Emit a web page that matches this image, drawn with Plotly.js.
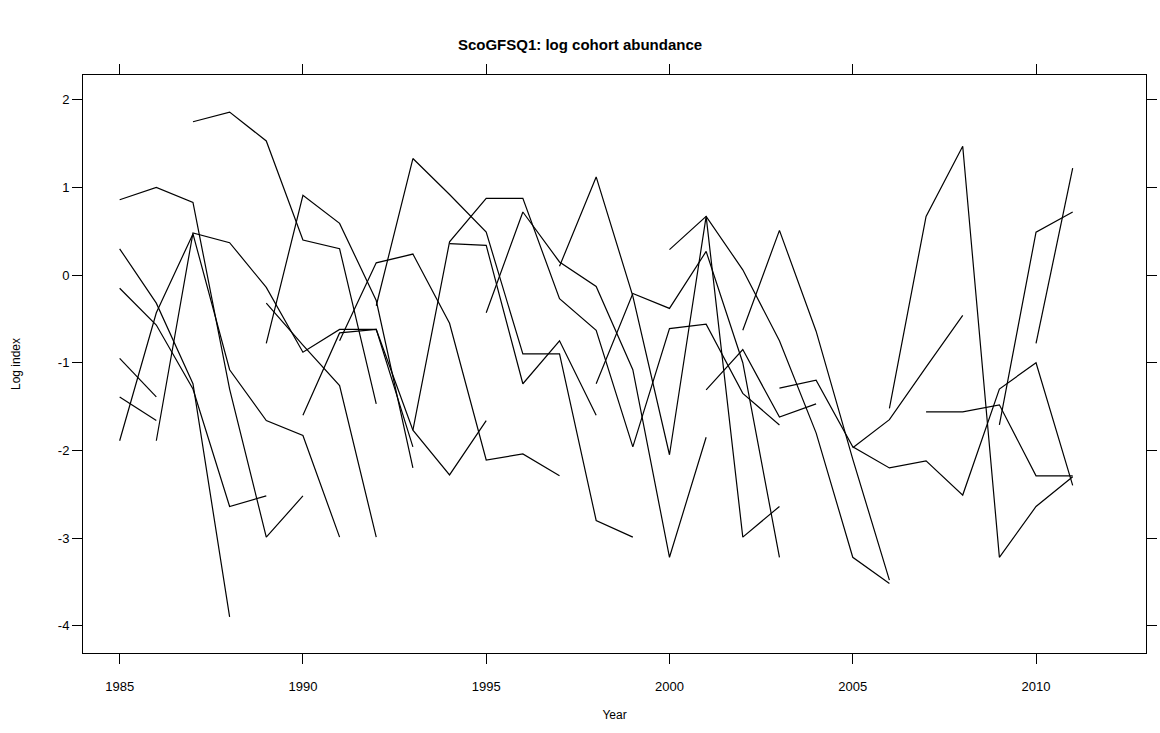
<!DOCTYPE html>
<html>
<head>
<meta charset="utf-8">
<script src="https://cdn.plot.ly/plotly-3.0.1.min.js"></script>
<style>
  html, body { margin: 0; padding: 0; background: #ffffff; }
  #chart { width: 1160px; height: 733px; }
</style>
</head>
<body>
<div id="chart"></div>
<script>
// Tick values
const yearTicks = [1985, 1990, 1995, 2000, 2005, 2010];
const indexTicks = [-4, -3, -2, -1, 0, 1, 2];

// First year of each cohort line (same order as the value arrays below)
const cohortStart = [1985, 1985, 1985, 1985, 1985, 1985, 1986, 1987, 1989, 1989,
                     1990, 1991, 1992, 1993, 1994, 1995, 1997, 1998, 2000, 2001,
                     2002, 2003, 2005, 2006, 2007, 2009, 2010];

// Log index values of each cohort, one value per consecutive year
const c01 = [0.86, 1.00, 0.83, -1.30, -2.99, -2.52];
const c02 = [0.30, -0.32, -1.24, -3.90];
const c03 = [-0.15, -0.57, -1.30, -2.64, -2.52];
const c04 = [-0.95, -1.39];
const c05 = [-1.39, -1.66];
const c06 = [-1.89, -0.43, 0.47, -1.08, -1.66, -1.83, -2.99];
const c07 = [-1.89, 0.48, 0.37, -0.14, -0.88, -0.62, -0.62, -1.96];
const c08 = [1.75, 1.86, 1.53, 0.40, 0.30, -1.47];
const c09 = [-0.78, 0.91, 0.59, -0.29, -2.20];
const c10 = [-0.32, -0.80, -1.26, -2.99];
const c11 = [-1.60, -0.66, -0.62, -1.77, -2.28, -1.66];
const c12 = [-0.75, 0.14, 0.24, -0.55, -2.11, -2.04, -2.29];
const c13 = [-0.35, 1.33, 0.92, 0.49, -0.90, -0.90, -2.80, -2.99];
const c14 = [-1.77, 0.38, 0.875, 0.875, -0.27, -0.63, -1.96, -0.61, -0.56, -1.35, -1.71];
const c15 = [0.36, 0.34, -1.24, -0.75, -1.60];
const c16 = [-0.43, 0.72, 0.15, -0.13, -1.08, -3.22, -1.85];
const c17 = [0.10, 1.12, -0.24, -2.05, 0.67, -2.99, -2.64];
const c18 = [-1.24, -0.21, -0.38, 0.27, -1.00, -3.22];
const c19 = [0.29, 0.67, 0.06, -0.75, -1.80, -3.22, -3.52];
const c20 = [-1.31, -0.85, -1.62, -1.47];
const c21 = [-0.63, 0.51, -0.64, -2.10, -3.48];
const c22 = [-1.29, -1.20, -1.96, -2.20, -2.12, -2.51, -1.30, -1.00, -2.40];
const c23 = [-1.97, -1.65, -1.05, -0.46];
const c24 = [-1.52, 0.67, 1.47, -3.22, -2.64, -2.30];
const c25 = [-1.56, -1.56, -1.48, -2.29, -2.29];
const c26 = [-1.71, 0.49, 0.72];
const c27 = [-0.78, 1.22];

const cohortValues = [c01, c02, c03, c04, c05, c06, c07, c08, c09, c10,
                      c11, c12, c13, c14, c15, c16, c17, c18, c19, c20,
                      c21, c22, c23, c24, c25, c26, c27];

const traces = cohortValues.map(function (vals, i) {
  return {
    type: 'scatter',
    mode: 'lines',
    x: vals.map(function (_, k) { return cohortStart[i] + k; }),
    y: vals,
    line: { color: '#000000', width: 1.2 },
    hoverinfo: 'x+y',
    showlegend: false
  };
});

const FONT = 'Liberation Sans, Arial, sans-serif';

const layout = {
  width: 1160,
  height: 733,
  paper_bgcolor: '#ffffff',
  plot_bgcolor: '#ffffff',
  margin: { l: 83, r: 14, t: 75, b: 80 },
  title: {
    text: '<b>ScoGFSQ1: log cohort abundance</b>',
    font: { family: FONT, size: 15, color: '#000000' },
    x: 0.5, xref: 'container', xanchor: 'center',
    y: 0.939, yref: 'container', yanchor: 'middle'
  },
  xaxis: {
    range: [1984, 2013],
    tickvals: yearTicks,
    ticktext: yearTicks.map(String),
    ticks: 'outside', ticklen: 10, tickwidth: 1, tickcolor: '#000000',
    ticklabelstandoff: 11,
    showline: true, linecolor: '#000000', linewidth: 1, mirror: 'ticks',
    showgrid: false, zeroline: false,
    tickfont: { family: FONT, size: 13, color: '#000000' },
    title: { text: 'Year', font: { family: FONT, size: 12, color: '#000000' }, standoff: 18 }
  },
  yaxis: {
    range: [-4.312, 2.283],
    tickvals: indexTicks,
    ticktext: indexTicks.map(String),
    ticks: 'outside', ticklen: 10, tickwidth: 1, tickcolor: '#000000',
    showline: true, linecolor: '#000000', linewidth: 1, mirror: 'ticks',
    showgrid: false, zeroline: false,
    tickfont: { family: FONT, size: 13, color: '#000000' },
    title: { text: 'Log index', font: { family: FONT, size: 12, color: '#000000' }, standoff: 34 }
  }
};

Plotly.newPlot('chart', traces, layout, { displayModeBar: false, staticPlot: true });
</script>
</body>
</html>
